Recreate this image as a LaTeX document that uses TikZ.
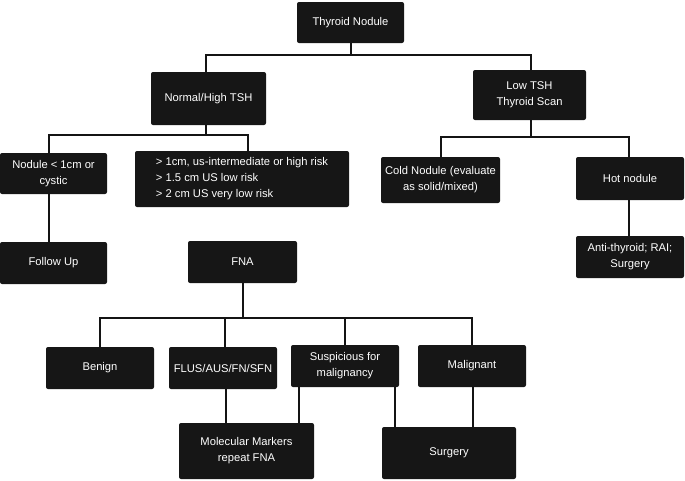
\documentclass[tikz,border=0pt]{standalone}
\usepackage{fontspec}
\setmainfont{Liberation Sans}
\usetikzlibrary{calc}
\definecolor{boxfill}{HTML}{161616}
\definecolor{linec}{HTML}{141414}
\begin{document}
\begin{tikzpicture}[x=0.75pt,y=-0.75pt,
  bx/.style={fill=boxfill, rounded corners=1.5pt, text=white, align=center, inner sep=0pt,
             font=\fontsize{8.4}{12}\selectfont, anchor=center},
  sz/.style n args={2}{minimum width=#1*0.75pt, minimum height=#2*0.75pt},
  conn/.style={draw=linec, line width=1.4pt}]
\useasboundingbox (0,0) rectangle (685,480);
% nodes
\node[bx, sz={107}{41}] (tn) at (350.5,22.5) {Thyroid Nodule};
\node[bx, sz={115}{53}] (nh) at (208.5,98.5) {Normal/High TSH};
\node[bx, sz={113}{50}] (lt) at (529.5,95) {Low TSH\\Thyroid Scan};
\node[bx, sz={107}{41}] (n1) at (53.5,173.5) {Nodule < 1cm or\\cystic};
\node[bx, sz={214}{56}, align=left] (gt) at (242,179) {> 1cm, us-intermediate or high risk\\> 1.5 cm US low risk\\> 2 cm US very low risk};
\node[bx, sz={119}{46}] (cold) at (440.5,180) {Cold Nodule (evaluate\\as solid/mixed)};
\node[bx, sz={108}{43}] (hot) at (630,178.5) {Hot nodule};
\node[bx, sz={108}{42}] (anti) at (630,257) {Anti-thyroid; RAI;\\Surgery};
\node[bx, sz={107}{42}] (fu) at (53.5,263) {Follow Up};
\node[bx, sz={109}{42}] (fna) at (242.5,262) {FNA};
\node[bx, sz={108}{42}] (ben) at (100,368) {Benign};
\node[bx, sz={108}{42}] (flus) at (223,368) {FLUS/AUS/FN/SFN};
\node[bx, sz={108}{42}] (sus) at (345,366) {Suspicious for\\malignancy};
\node[bx, sz={108}{42}] (mal) at (472,366) {Malignant};
\node[bx, sz={135}{56}] (mol) at (246.5,451) {Molecular Markers\\repeat FNA};
\node[bx, sz={134}{52}] (surg) at (449,453) {Surgery};
% connectors
\coordinate (t0) at ($(tn.south)+(0.5,0)$);
\coordinate (j1) at ($(t0)+(0,12)$);
\draw[conn] (t0) -- (j1);
\draw[conn] ($(nh.north)+(-2.5,0)$) |- (j1) -| ($(lt.north)+(1.5,0)$);
\coordinate (j2) at ($(nh.south)+(-2.5,10)$);
\draw[conn] ($(nh.south)+(-2.5,0)$) -- (j2);
\draw[conn] ($(n1.north)+(-4.5,0)$) |- (j2) -| ($(gt.north)+(6,0)$);
\draw[conn] ($(n1.south)+(-4.5,0)$) -- ($(fu.north)+(-4.5,0)$);
\coordinate (j3) at ($(lt.south)+(1.5,17)$);
\draw[conn] ($(lt.south)+(1.5,0)$) -- (j3);
\draw[conn] ($(cold.north)+(0.5,0)$) |- (j3) -| ($(hot.north)+(-1,0)$);
\draw[conn] ($(hot.south)+(-1,0)$) -- ($(anti.north)+(-1,0)$);
\coordinate (a0) at ($(fna.south)+(0.5,0)$);
\coordinate (j4) at ($(a0)+(0,35)$);
\draw[conn] (a0) -- (j4);
\draw[conn] (ben.north) |- (j4) -| (mal.north);
\coordinate (f1) at ($(flus.north)+(2,0)$);
\draw[conn] (f1) -- (f1 |- j4);
\draw[conn] (sus.north) -- (sus.north |- j4);
\coordinate (f2) at ($(flus.south)+(3,0)$);
\draw[conn] (f2) -- (f2 |- mol.north);
\coordinate (s1) at ($(sus.south west)+(8,0)$);
\draw[conn] (s1) -- (s1 |- mol.north);
\coordinate (s2) at ($(sus.south east)+(-4,0)$);
\draw[conn] (s2) -- (s2 |- surg.north);
\coordinate (m1) at ($(mal.south)+(1,0)$);
\draw[conn] (m1) -- (m1 |- surg.north);
\end{tikzpicture}
\end{document}
